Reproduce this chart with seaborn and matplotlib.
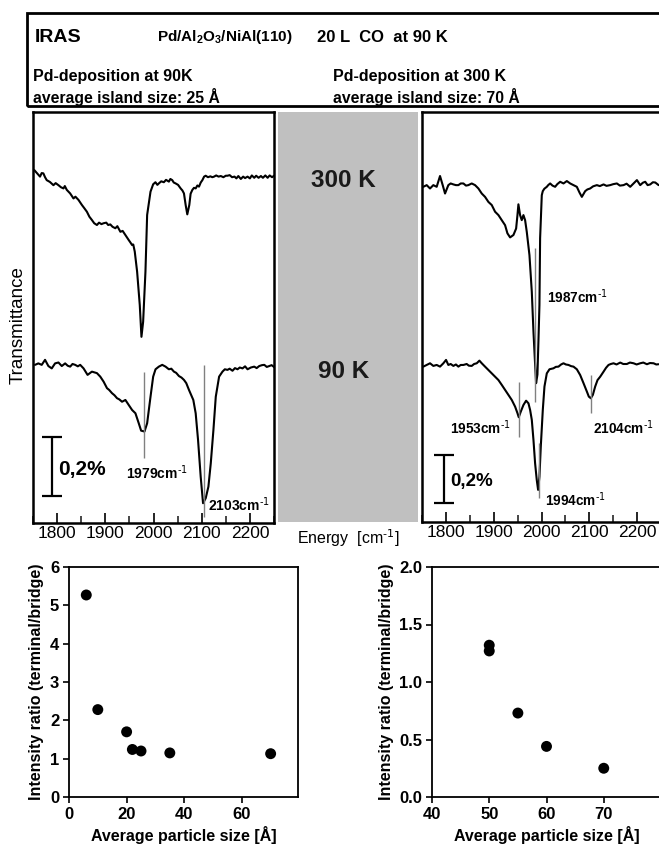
import numpy as np
import pandas as pd
import matplotlib.pyplot as plt
import matplotlib.patches as patches
from matplotlib.ticker import MultipleLocator
import seaborn as sns

sns.set_theme(style="ticks")
plt.rcParams["font.family"] = ["Liberation Sans", "DejaVu Sans"]
plt.rcParams["mathtext.default"] = "regular"
plt.rcParams["text.color"] = "black"
plt.rcParams["axes.labelcolor"] = "black"

# ------------------------------------------------------------------------------ #
# data (energy in cm^-1, transmittance change in %)
# ------------------------------------------------------------------------------ #

# Pd deposited at 90 K, 25 A islands
e_25_300 = [1752.8, 1757, 1764.6, 1768, 1771.5, 1775, 1778.5, 1785, 1792.4, 1797,
            1802.8, 1808, 1813.2, 1816, 1820.1, 1827.1, 1834, 1838, 1844.4, 1851.4,
            1856, 1861.8, 1867, 1872.2, 1877, 1882.6, 1887, 1892, 1896.5, 1902,
            1906, 1910.4, 1915, 1920.8, 1925, 1931.3, 1936, 1941.7, 1948.6, 1952,
            1955.6, 1958, 1961.1, 1966, 1971.5, 1975, 1978.5, 1983.3, 1986.8, 1993.8,
            1999.3, 2004, 2008, 2011.1, 2016, 2021.5, 2026, 2031.9, 2035, 2038.9,
            2042, 2045.8, 2051, 2056.3, 2060, 2063.2, 2066.7, 2070.1, 2074.3, 2077,
            2080.6, 2084, 2087.5, 2091, 2094.4, 2098, 2101.4, 2105, 2108.3, 2113,
            2118, 2122, 2125.7, 2130, 2135, 2139.6, 2145, 2150, 2153.5, 2158,
            2163, 2168.1, 2172, 2176, 2181.2, 2186, 2190, 2195.1, 2200, 2204,
            2209, 2213, 2218, 2222.9, 2227, 2232, 2236.8, 2241, 2246, 2250]
t_25_300 = [0.020, 0.012, -0.002, 0.010, 0.009, -0.004, -0.014, -0.020, -0.031, -0.024,
            -0.031, -0.038, -0.042, -0.034, -0.047, -0.059, -0.076, -0.070, -0.081, -0.098,
            -0.108, -0.121, -0.138, -0.149, -0.160, -0.166, -0.158, -0.163, -0.160, -0.158,
            -0.166, -0.164, -0.172, -0.177, -0.170, -0.189, -0.186, -0.200, -0.217, -0.225,
            -0.234, -0.232, -0.256, -0.324, -0.437, -0.545, -0.494, -0.324, -0.132, -0.053,
            -0.028, -0.021, -0.030, -0.025, -0.018, -0.021, -0.013, -0.019, -0.010, -0.014,
            -0.022, -0.025, -0.030, -0.042, -0.049, -0.059, -0.098, -0.130, -0.098, -0.060,
            -0.047, -0.040, -0.042, -0.032, -0.036, -0.022, -0.014, -0.002, 0.001, -0.004,
            -0.001, -0.004, -0.002, 0.002, -0.002, 0.000, -0.004, 0.001, 0.001, 0.003,
            -0.004, -0.002, -0.008, 0.000, -0.010, -0.002, -0.007, -0.002, -0.008, 0.002,
            -0.006, 0.001, -0.006, 0.000, -0.006, 0.002, -0.006, 0.002, -0.004, 0.001]

e_25_90 = [1754.2, 1761.1, 1768.1, 1775, 1781.9, 1788.9, 1795.8, 1802.8, 1809.7, 1816.7,
           1822, 1827.1, 1832, 1837.5, 1843, 1847.9, 1854.9, 1863.2, 1872.2, 1882.6,
           1889.6, 1896.5, 1903.5, 1908, 1913.9, 1919, 1924.3, 1929, 1934.7, 1941.7,
           1948.6, 1955.6, 1962.5, 1969.4, 1974.3, 1981.3, 1986.8, 1993.8, 1999.3, 2004.2,
           2011.1, 2018.1, 2025, 2031.9, 2037, 2042.4, 2047, 2052.8, 2058, 2063.2,
           2068, 2073.6, 2082.6, 2087.5, 2092.4, 2097.9, 2102.8, 2108.3, 2113.9, 2118.8,
           2124.3, 2129.2, 2136.1, 2143.1, 2148, 2153.5, 2158, 2163.9, 2169, 2174.3,
           2179, 2184.7, 2190, 2195.1, 2202, 2209, 2214, 2219.4, 2225, 2229.9,
           2235, 2240.3, 2245, 2250.7]
t_25_90 = [0.007, 0.012, 0.007, 0.024, 0.003, -0.005, 0.012, 0.015, 0.003, 0.012,
           0.004, 0.001, 0.010, 0.007, 0.002, 0.007, -0.005, -0.027, -0.016, -0.021,
           -0.033, -0.050, -0.072, -0.078, -0.089, -0.096, -0.106, -0.110, -0.118, -0.112,
           -0.129, -0.146, -0.157, -0.191, -0.216, -0.219, -0.191, -0.101, -0.033, -0.008,
           0.001, 0.007, 0.001, -0.008, -0.006, -0.016, -0.020, -0.031, -0.036, -0.044,
           -0.055, -0.078, -0.112, -0.157, -0.247, -0.372, -0.462, -0.445, -0.406, -0.327,
           -0.214, -0.101, -0.033, -0.016, -0.008, -0.010, -0.006, -0.013, -0.004, -0.008,
           -0.002, -0.005, 0.002, -0.008, -0.002, 0.001, -0.004, 0.003, 0.006, 0.007,
           0.000, 0.003, 0.006, -0.001]

# Pd deposited at 300 K, 70 A islands
e_70_300 = [1752.8, 1759.8, 1766.8, 1773.7, 1780.7, 1787.7, 1793.3, 1798.2, 1805.1, 1810,
            1815.6, 1821, 1826.1, 1831, 1836.6, 1842, 1847, 1854, 1861, 1868,
            1875, 1881.9, 1888.9, 1895.9, 1902.9, 1909.9, 1916.8, 1923.8, 1928.7, 1934.3,
            1941.3, 1946.9, 1949.7, 1951.7, 1955.2, 1958.7, 1962.2, 1965.7, 1969.2, 1974.8,
            1979.7, 1983.2, 1986, 1988.7, 1991.5, 1993.6, 1995.7, 1997.1, 2000.6, 2002.7,
            2006, 2011.1, 2014, 2018.1, 2023, 2028.5, 2033, 2039, 2046, 2053,
            2060, 2066.9, 2073.9, 2079.5, 2084.4, 2091.4, 2096, 2101.8, 2108, 2115.8,
            2122, 2129.8, 2136, 2143.7, 2150, 2157.7, 2164, 2171.6, 2178, 2185.6,
            2192.6, 2199.6, 2206.5, 2212, 2217, 2222, 2227.5, 2233, 2238, 2245]
t_70_300 = [-0.007, 0.000, -0.014, 0.000, -0.007, 0.038, 0.000, -0.035, 0.000, 0.007,
            0.003, 0.000, 0.000, 0.007, 0.007, -0.002, 0.000, 0.007, 0.000, -0.014,
            -0.035, -0.049, -0.070, -0.083, -0.111, -0.125, -0.146, -0.167, -0.201, -0.218,
            -0.208, -0.181, -0.125, -0.080, -0.125, -0.146, -0.125, -0.146, -0.195, -0.292,
            -0.445, -0.612, -0.723, -0.826, -0.790, -0.650, -0.500, -0.221, -0.042, -0.025,
            -0.015, -0.007, 0.000, 0.007, -0.002, -0.007, 0.004, 0.014, 0.007, 0.017,
            0.007, 0.000, -0.007, -0.031, -0.049, -0.025, -0.018, -0.014, -0.005, 0.000,
            -0.004, 0.003, -0.003, 0.000, 0.004, 0.007, -0.002, 0.000, 0.006, -0.007,
            0.007, 0.021, 0.000, 0.010, 0.014, 0.000, 0.003, 0.012, 0.011, 0.000]

e_70_90 = [1752.8, 1759.8, 1766.8, 1773.7, 1780.7, 1787.7, 1794.7, 1800.3, 1805.1, 1810,
           1815.6, 1821, 1826.1, 1831, 1836.6, 1843.5, 1848, 1854, 1859, 1864.5,
           1870.1, 1875, 1881.9, 1888.9, 1895.9, 1902.9, 1909.9, 1916.8, 1923.8, 1930.8,
           1937.8, 1944.8, 1949.7, 1952.4, 1956.6, 1962.2, 1967.8, 1972.7, 1976.2, 1979.7,
           1983.2, 1986.6, 1990.1, 1992.9, 1995.7, 1998.5, 2002.7, 2006.2, 2011.1, 2016.7,
           2025, 2030, 2035.5, 2041, 2046, 2051, 2056.5, 2062, 2066.9, 2073.9,
           2080.9, 2087.9, 2094.9, 2099, 2103.2, 2107.4, 2112.3, 2117.2, 2122.8, 2129.8,
           2135, 2140.2, 2145, 2150.7, 2157, 2164.7, 2171, 2178.6, 2185, 2192.6,
           2199, 2206.5, 2213, 2220.5, 2227, 2234.5, 2240, 2244.9]
t_70_90 = [-0.007, 0.000, 0.007, -0.004, 0.000, -0.007, 0.007, 0.021, 0.000, 0.004,
           -0.004, 0.002, -0.007, 0.000, 0.000, 0.004, -0.003, -0.004, 0.004, 0.007,
           0.018, 0.007, -0.007, -0.021, -0.035, -0.049, -0.063, -0.083, -0.104, -0.125,
           -0.146, -0.174, -0.201, -0.218, -0.195, -0.167, -0.149, -0.160, -0.188, -0.229,
           -0.313, -0.410, -0.480, -0.521, -0.466, -0.341, -0.188, -0.090, -0.035, -0.018,
           -0.014, -0.008, -0.007, 0.002, 0.007, 0.002, 0.000, -0.005, -0.007, -0.018,
           -0.042, -0.076, -0.111, -0.132, -0.139, -0.125, -0.090, -0.063, -0.049, -0.028,
           -0.012, 0.000, 0.004, 0.007, 0.002, 0.010, 0.004, 0.004, 0.010, 0.007,
           0.002, 0.007, 0.010, 0.003, 0.008, 0.007, 0.002, 0.003]

# intensity ratio terminal/bridge vs particle size
size_low = [6, 10, 20, 22, 25, 35, 70]
ratio_low = [5.27, 2.28, 1.70, 1.24, 1.20, 1.15, 1.13]
size_high = [50, 50, 55, 60, 70]
ratio_high = [1.32, 1.27, 0.73, 0.44, 0.25]

energy_ticks = [1800, 1900, 2000, 2100, 2200]
low_xticks = [0, 20, 40, 60]
low_yticks = [0, 1, 2, 3, 4, 5, 6]
high_xticks = [40, 50, 60, 70]
high_yticks = [0.0, 0.5, 1.0, 1.5, 2.0]

WAVENUM = r"cm$^{\text{-1}}$"

# ------------------------------------------------------------------------------ #
# layout helpers (pixel coordinates of the 659 x 850 figure)
# ------------------------------------------------------------------------------ #

W, H = 659.0, 850.0
fig = plt.figure(figsize=(W / 100, H / 100), dpi=100)


def fbox(x0, y0, x1, y1):
    return [x0 / W, 1 - y1 / H, (x1 - x0) / W, (y1 - y0) / H]


def ftxt(px, py, s, **kw):
    kw.setdefault("va", "center")
    fig.text(px / W, 1 - py / H, s, **kw)


# header box
fig.add_artist(
    patches.Rectangle(
        (27 / W, 1 - 106 / H), 640 / W, 93 / H,
        fill=False, lw=2, ec="black", transform=fig.transFigure, clip_on=False,
    )
)
ftxt(35, 38, "IRAS", fontsize=14, fontweight="bold")
ftxt(157, 37, "Pd/Al$_2$O$_3$/NiAl(110)", fontsize=11, fontweight="bold")
ftxt(317, 37, "20 L  CO  at 90 K", fontsize=12, fontweight="bold")
ftxt(33, 76, "Pd-deposition at 90K", fontsize=11.5, fontweight="bold")
ftxt(33, 97, "average island size: 25 Å", fontsize=11.3, fontweight="bold")
ftxt(333, 76, "Pd-deposition at 300 K", fontsize=11.5, fontweight="bold")
ftxt(333, 97, "average island size: 70 Å", fontsize=11.3, fontweight="bold")

# ------------------------------------------------------------------------------ #
# spectra
# ------------------------------------------------------------------------------ #


def spectrum_panel(ax, traces, offsets, ylim):
    for (e, dt), off in zip(traces, offsets):
        df = pd.DataFrame({"energy": e, "signal": np.asarray(dt) + off})
        sns.lineplot(
            data=df, x="energy", y="signal", ax=ax, color="black",
            lw=1.5, sort=False, estimator=None,
        )
    ax.set_xlim(1750, 2250)
    ax.set_ylim(*ylim)
    ax.set_yticks([])
    ax.set_xlabel("")
    ax.set_ylabel("")
    ax.set_xticks(energy_ticks)
    ax.xaxis.set_minor_locator(MultipleLocator(50))
    ax.tick_params(axis="x", which="major", direction="in", length=7, width=1.2,
                   labelsize=12.5, pad=2, colors="black")
    ax.tick_params(axis="x", which="minor", direction="in", length=5, width=1.2)
    for sp in ax.spines.values():
        sp.set_linewidth(1.8)
        sp.set_color("black")


def scale_bar(ax, e, y0, cap, label, fs):
    ax.vlines(e, y0, y0 + 0.2, color="black", lw=1.6)
    ax.hlines([y0, y0 + 0.2], e - cap, e + cap, color="black", lw=1.6)
    ax.text(e + cap * 0.6, y0 + 0.09, label, fontsize=fs, fontweight="bold", va="center")


def peak_mark(ax, e, y0, y1):
    ax.vlines(e, y0, y1, color="#808080", lw=1)


ax_l = fig.add_axes(fbox(33, 112, 274, 523))
spectrum_panel(ax_l, [(e_25_300, t_25_300), (e_25_90, t_25_90)], [1.176, 0.529], (0, 1.393))
peak_mark(ax_l, 1980, 0.220, 0.512)
peak_mark(ax_l, 2104, 0.020, 0.536)
ax_l.text(2008, 0.170, "1979" + WAVENUM, fontsize=10, fontweight="bold", ha="center", va="center")
ax_l.text(2113, 0.061, "2103" + WAVENUM, fontsize=10, fontweight="bold", ha="left", va="center")
scale_bar(ax_l, 1790, 0.0915, 21, "0,2%", 15)

ax_r = fig.add_axes(fbox(422, 112, 661, 522))
spectrum_panel(ax_r, [(e_70_300, t_70_300), (e_70_90, t_70_90)], [1.405, 0.655], (0, 1.710))
peak_mark(ax_r, 1987, 0.500, 1.143)
peak_mark(ax_r, 1953, 0.354, 0.584)
peak_mark(ax_r, 2104, 0.455, 0.613)
peak_mark(ax_r, 1994, 0.100, 0.329)
ax_r.text(2011, 0.938, "1987" + WAVENUM, fontsize=9.8, fontweight="bold", ha="left", va="center")
ax_r.text(1935, 0.392, "1953" + WAVENUM, fontsize=9.8, fontweight="bold", ha="right", va="center")
ax_r.text(2108, 0.392, "2104" + WAVENUM, fontsize=9.8, fontweight="bold", ha="left", va="center")
ax_r.text(2008, 0.092, "1994" + WAVENUM, fontsize=9.8, fontweight="bold", ha="left", va="center")
scale_bar(ax_r, 1796, 0.079, 21, "0,2%", 13.5)

ftxt(18, 325, "Transmittance", rotation=90, ha="center", fontsize=13.5)

# grey middle band
ax_g = fig.add_axes(fbox(278, 112, 418, 522))
ax_g.set_facecolor("#c0c0c0")
ax_g.set_xticks([])
ax_g.set_yticks([])
for sp in ax_g.spines.values():
    sp.set_visible(False)
ax_g.text(0.47, 0.834, "300 K", transform=ax_g.transAxes, ha="center", va="center",
          fontsize=17.5, fontweight="bold", color="#1a1a1a")
ax_g.text(0.47, 0.366, "90 K", transform=ax_g.transAxes, ha="center", va="center",
          fontsize=17.5, fontweight="bold", color="#1a1a1a")
ftxt(348, 538, "Energy  [" + WAVENUM + "]", ha="center", fontsize=11.5)

# ------------------------------------------------------------------------------ #
# intensity ratios
# ------------------------------------------------------------------------------ #


def ratio_panel(ax, x, y, xlim, ylim, xticks, yticks, yfmt):
    sns.scatterplot(x=x, y=y, ax=ax, color="black", s=62, edgecolor="none")
    ax.set_xlim(*xlim)
    ax.set_ylim(*ylim)
    ax.set_xticks(xticks)
    ax.set_xticklabels([str(t) for t in xticks], fontweight="bold")
    ax.set_yticks(yticks)
    ax.set_yticklabels([yfmt.format(t) for t in yticks], fontweight="bold")
    ax.tick_params(direction="out", length=4, width=1.2, labelsize=12, colors="black", pad=3)
    ax.set_xlabel("Average particle size [Å]", fontsize=11.5, fontweight="bold", labelpad=3)
    ax.set_ylabel("Intensity ratio (terminal/bridge)", fontsize=11.5, fontweight="bold", labelpad=4)
    for sp in ax.spines.values():
        sp.set_linewidth(1.3)
        sp.set_color("black")


ax_b1 = fig.add_axes(fbox(69, 567, 298, 797))
ratio_panel(ax_b1, size_low, ratio_low, (0, 79.5), (0, 6), low_xticks, low_yticks, "{:d}")

ax_b2 = fig.add_axes(fbox(432, 567, 661, 797))
ratio_panel(ax_b2, size_high, ratio_high, (40, 80), (0, 2), high_xticks, high_yticks, "{:.1f}")

fig.savefig("out.png", dpi=100)
